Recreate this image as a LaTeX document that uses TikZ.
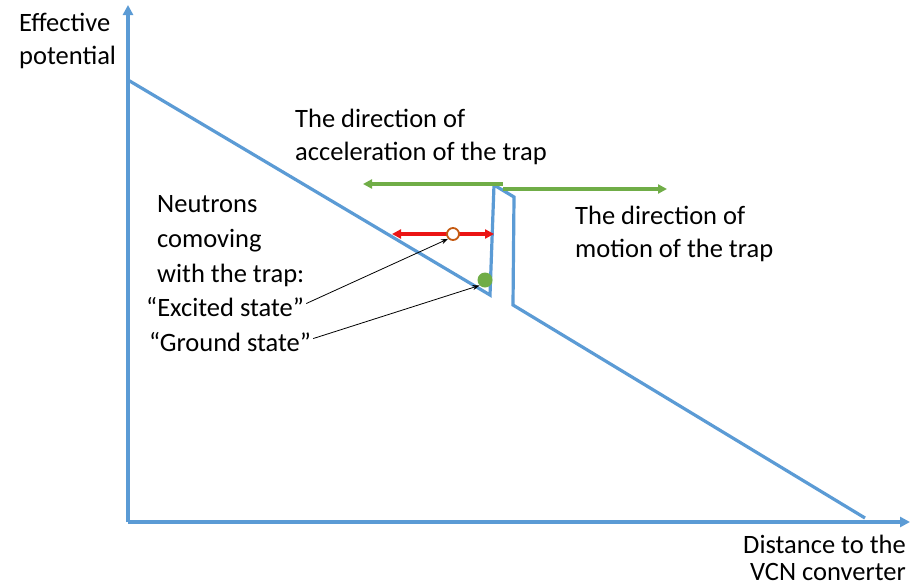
\documentclass[tikz,border=0pt]{standalone}
\usepackage{fontspec}
\setmainfont{Carlito}
\usetikzlibrary{arrows.meta}
\definecolor{pblue}{RGB}{91,155,213}
\definecolor{pgreen}{RGB}{112,173,71}
\definecolor{pred}{RGB}{235,20,20}
\definecolor{porange}{RGB}{197,90,17}
\tikzset{
  axis/.style={pblue, line width=3.2pt, -{Triangle[length=10pt,width=10pt]}},
  pot/.style={pblue, line width=3.2pt, line join=miter},
  garrow/.style={pgreen, line width=3.2pt, -{Triangle[length=9pt,width=9pt]}},
  rarrow/.style={pred, line width=3.2pt, {Triangle[length=9pt,width=9pt]}-{Triangle[length=9pt,width=9pt]}},
  pointer/.style={black, line width=0.8pt, -{Stealth[length=7pt,width=5pt]}},
  lbl/.style={font=\fontsize{26.5}{33}\selectfont, inner sep=0pt, align=left}
}
\begin{document}
\begin{tikzpicture}[x=1pt,y=-1pt]
\useasboundingbox[fill=white] (0,0) rectangle (916,587);
% axes
\coordinate (O) at (128,522);
\coordinate (Ytop) at (128,5);
\coordinate (Xend) at (910,522);
\draw[axis] (O) -- (Ytop);
\draw[axis] (O) -- (Xend);
% potential
\coordinate (p0) at (128,80);
\coordinate (p1) at (490,295);
\coordinate (p2) at (494,185);
\coordinate (p3) at (514,197);
\coordinate (p4) at (513,305);
\coordinate (p5) at (865,518);
\draw[pot] (p0) -- (p1) -- (p2) -- (p3) -- (p4) -- (p5);
% green arrows
\coordinate (ga0) at (503,184);
\coordinate (ga1) at (363,184);
\coordinate (gb0) at (503,189);
\coordinate (gb1) at (667,189);
\draw[garrow] (ga0) -- (ga1);
\draw[garrow] (gb0) -- (gb1);
% red double arrow
\coordinate (r0) at (392,234);
\coordinate (r1) at (494,234);
\draw[rarrow] (r0) -- (r1);
% neutrons
\node[circle, draw=porange, line width=1.8pt, fill=white, minimum size=12pt, inner sep=0pt] (exc) at (453,234) {};
\node[circle, fill=pgreen, minimum size=15pt, inner sep=0pt] (gnd) at (485,280) {};
% labels
\node[lbl, anchor=base west] (ylab1) at (19,31) {Effective};
\node[lbl, anchor=base west] (ylab2) at (19,64) {potential};
\node[lbl, anchor=base west] (acc1) at (295,127) {The direction of};
\node[lbl, anchor=base west] (acc2) at (295,160) {acceleration of the trap};
\node[lbl, anchor=base west] (mot1) at (575,224) {The direction of};
\node[lbl, anchor=base west] (mot2) at (575,257) {motion of the trap};
\node[lbl, anchor=base west] (n1) at (157,212) {Neutrons};
\node[lbl, anchor=base west] (n2) at (157,247) {comoving};
\node[lbl, anchor=base west] (n3) at (157,282) {with the trap:};
\node[lbl, anchor=base west] (ex) at (146,316) {“Excited state”};
\node[lbl, anchor=base west] (gs) at (149,351) {“Ground state”};
\node[lbl, anchor=base east] (xl1) at (906,553) {Distance to the};
\node[lbl, anchor=base east] (xl2) at (906,580) {VCN converter};
% pointers
\draw[pointer] (ex.east) ++(2,-3) coordinate (exs) -- (exc.south west);
\draw[pointer] (gs.east) ++(2,-3) coordinate (gss) -- (gnd.south west);
\end{tikzpicture}
\end{document}
